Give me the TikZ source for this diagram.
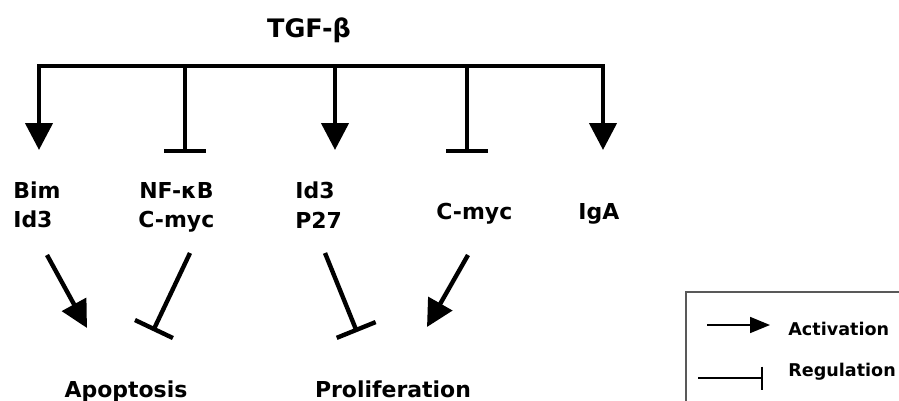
\documentclass[tikz,border=0pt]{standalone}
\usepackage{fontspec}
\setmainfont{DejaVu Sans}
\usetikzlibrary{arrows.meta}

\begin{document}
\begin{tikzpicture}[x=0.02cm, y=-0.02cm,
  lbl/.style={font=\fontsize{12.5}{15}\selectfont\bfseries, inner sep=0pt, anchor=base west},
  lblc/.style={lbl, anchor=base},
  title/.style={font=\fontsize{14.5}{17}\selectfont\bfseries, inner sep=0pt, anchor=base},
  legtext/.style={font=\fontsize{10}{12}\selectfont\bfseries, inner sep=0pt, anchor=base west},
  thick line/.style={line width=2.5pt},
  act/.style={thick line, -{Triangle[length=0.54cm, width=0.54cm]}},
  inh/.style={thick line, -{Bar[width=0.84cm]}},
  legact/.style={line width=1pt, -{Triangle[length=0.4cm, width=0.32cm]}},
  leginh/.style={line width=1pt, -{Bar[width=0.46cm]}},
]
\useasboundingbox (0,0) rectangle (899,400);

% source
\node[title] (tgf) at (309,37) {TGF-β};

% branch points on the distribution bar and the ends of the drops
\coordinate (b1) at (39,66);
\coordinate (b2) at (185,66);
\coordinate (b3) at (335,66);
\coordinate (b4) at (467,66);
\coordinate (b5) at (603,66);
\coordinate (e1) at (39,150);
\coordinate (e2) at (185,153);
\coordinate (e3) at (335,150);
\coordinate (e4) at (467,153);
\coordinate (e5) at (603,150);

\draw[thick line, line cap=rect] (b1) -- (b5);
\draw[act] (b1) -- (e1);
\draw[inh] (b2) -- (e2);
\draw[act] (b3) -- (e3);
\draw[inh] (b4) -- (e4);
\draw[act] (b5) -- (e5);

% targets
\node[lbl] (bim)  at (13,198) {Bim};
\node[lbl] (id3a) at (13,227) {Id3};
\node[lbl] (nfkb) at (139,198) {NF-κB};
\node[lbl] (cmyca) at (138,227) {C-myc};
\node[lbl] (id3b) at (295,198) {Id3};
\node[lbl] (p27)  at (295,228) {P27};
\node[lbl] (cmycb) at (436,219) {C-myc};
\node[lbl] (iga)  at (578,219) {IgA};

% outcomes
\node[lblc] (apo) at (126,397) {Apoptosis};
\node[lblc] (pro) at (393,397) {Proliferation};

% effects on the outcomes
\coordinate (a1s) at (47,255);
\coordinate (a1e) at (87,328);
\coordinate (t1s) at (190,253);
\coordinate (t1e) at (153,331);
\coordinate (t2s) at (325,253);
\coordinate (t2e) at (357,332);
\coordinate (a2s) at (468,255);
\coordinate (a2e) at (427,327);

\draw[act] (a1s) -- (a1e);
\draw[inh] (t1s) -- (t1e);
\draw[inh] (t2s) -- (t2e);
\draw[act] (a2s) -- (a2e);

% legend
\draw[line width=0.7pt, draw=black!65] (686,292) rectangle (905,410);
\coordinate (la1) at (707,325);
\coordinate (la2) at (770,325);
\coordinate (lr1) at (698,378);
\coordinate (lr2) at (763,378);
\draw[legact] (la1) -- (la2);
\draw[leginh] (lr1) -- (lr2);
\node[legtext] (lact) at (788,335) {Activation};
\node[legtext] (lreg) at (788,376) {Regulation};
\end{tikzpicture}
\end{document}
